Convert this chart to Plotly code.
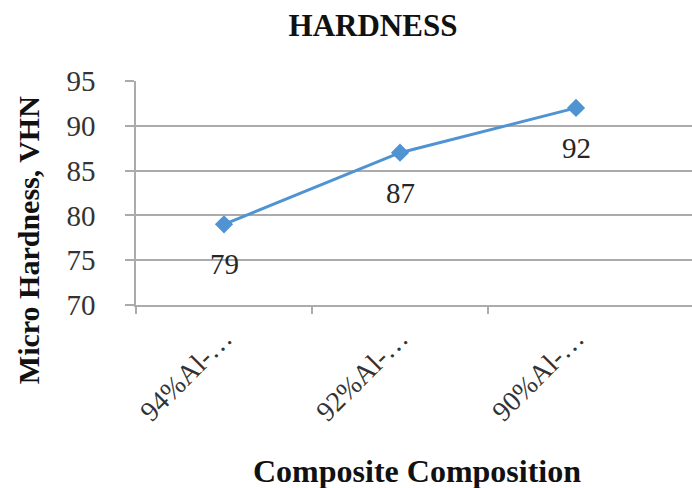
import plotly.graph_objects as go

# Hardness data
categories = ["94%Al-…", "92%Al-…", "90%Al-…"]
hardness = [79, 87, 92]
y_ticks = [70, 75, 80, 85, 90, 95]

positions = list(range(len(categories)))
boundaries = [p - 0.5 for p in positions]

line_color = "#5093D3"
grid_color = "#ababab"
serif = "Liberation Serif"

fig = go.Figure()
fig.add_trace(go.Scatter(
    x=positions,
    y=hardness,
    customdata=categories,
    mode="lines+markers",
    line=dict(color=line_color, width=3),
    marker=dict(symbol="diamond", size=14, color=line_color),
    hovertemplate="%{customdata}: %{y}<extra></extra>",
    showlegend=False,
))

# value labels under each point
for p, v in zip(positions, hardness):
    fig.add_annotation(
        x=p, y=v, text=str(v), showarrow=False, yshift=-40,
        font=dict(family=serif, size=29, color="#262626"),
    )

fig.add_annotation(
    text="<b>Micro Hardness, VHN</b>", xref="paper", yref="paper",
    x=-0.194, y=0.29, xanchor="center", yanchor="middle",
    textangle=-90, showarrow=False,
    font=dict(family=serif, size=30, color="#111111"),
)
fig.add_annotation(
    text="<b>Composite Composition</b>", xref="paper", yref="paper",
    x=0.505, y=-0.741, xanchor="center", yanchor="middle",
    showarrow=False,
    font=dict(family=serif, size=32, color="#111111"),
)

fig.update_layout(
    width=692, height=488,
    margin=dict(l=136, r=0, t=81, b=183),
    paper_bgcolor="white", plot_bgcolor="white",
    title=dict(
        text="<b>HARDNESS</b>", x=373 / 692, xanchor="center",
        y=1 - 25 / 488, yanchor="middle",
        font=dict(family=serif, size=31, color="#111111"),
    ),
    font=dict(family=serif),
)

fig.update_xaxes(
    range=[-0.5, 2.659],
    tickmode="array", tickvals=positions, ticktext=categories,
    ticks="", tickangle=-45, ticklabelstandoff=4,
    tickfont=dict(family=serif, size=28, color="#333333"),
    minor=dict(tickmode="array", tickvals=boundaries, ticks="outside",
               ticklen=7, tickcolor=grid_color, tickwidth=1.5, showgrid=False),
    showgrid=False,
    showline=True, linecolor=grid_color, linewidth=1.5,
    zeroline=False,
)
fig.update_yaxes(
    range=[70, 95],
    tickvals=y_ticks,
    ticks="outside", ticklen=9, tickcolor=grid_color, tickwidth=1.5,
    ticklabelstandoff=24,
    tickfont=dict(family=serif, size=29, color="#333333"),
    showgrid=True, gridcolor=grid_color, gridwidth=1.5,
    showline=True, linecolor=grid_color, linewidth=1.5,
    zeroline=False,
)

fig.write_html("out.html")
